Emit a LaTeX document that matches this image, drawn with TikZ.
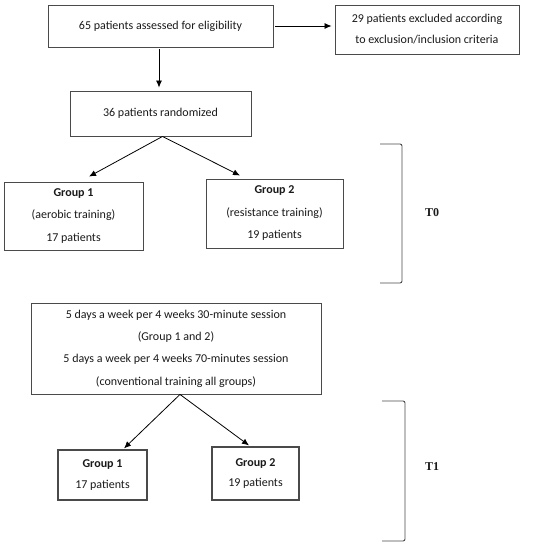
\documentclass[tikz,border=0pt]{standalone}
\usepackage{fontspec}
\setmainfont{Carlito}
\newfontfamily\tnr{Liberation Serif}
\usetikzlibrary{arrows.meta,calc}
\definecolor{boxline}{HTML}{4A4A4A}
\definecolor{txt}{HTML}{1A1A1A}
\tikzset{
  box/.style={draw=boxline, line width=0.9pt, rectangle, inner sep=0pt, align=center,
    text=txt, font=\fontsize{12}{22}\selectfont},
  thickbox/.style={box, line width=1.2pt},
  arr/.style={-{Latex[length=7pt,width=6pt]}, line width=0.8pt, black},
  brack/.style={draw=boxline, line width=0.9pt, rounded corners=2pt},
  tlabel/.style={font=\tnr\bfseries\fontsize{12}{13}\selectfont, text=txt}
}
\begin{document}
\begin{tikzpicture}[x=1pt,y=-1pt]
\useasboundingbox (0,0) rectangle (550,546);
\fill[white] (0,0) rectangle (550,546);
\node[box, minimum width=225pt, minimum height=42pt] (A) at (160.5,26) {65 patients assessed for eligibility};
\node[box, minimum width=184pt, minimum height=49pt, font=\fontsize{12}{21}\selectfont] (B) at (427,29.5) {29 patients excluded according\\to exclusion/inclusion criteria};
\node[box, minimum width=181pt, minimum height=45pt] (C) at (160.5,113.5) {36 patients randomized};
\node[box, minimum width=139pt, minimum height=68pt, font=\fontsize{12}{22.5}\selectfont] (G1) at (73.5,216) {\textbf{Group 1}\\(aerobic training)\\17 patients};
\node[box, minimum width=137pt, minimum height=69pt, font=\fontsize{12}{22.5}\selectfont] (G2) at (274.5,213.5) {\textbf{Group 2}\\(resistance training)\\19 patients};
\node[box, minimum width=290pt, minimum height=91pt, font=\fontsize{12}{22.4}\selectfont] (D) at (176,348.5) {5 days a week per 4 weeks 30-minute session\\(Group 1 and 2)\\5 days a week per 4 weeks 70-minutes session\\(conventional training all groups)};
\node[thickbox, minimum width=89pt, minimum height=50pt, font=\fontsize{12}{20.5}\selectfont] (H1) at (102.5,475) {\textbf{Group 1}\\17 patients};
\node[thickbox, minimum width=87pt, minimum height=53pt, font=\fontsize{12}{20.5}\selectfont] (H2) at (255.5,473.5) {\textbf{Group 2}\\19 patients};

\draw[arr] ([xshift=2pt]A.east) -- ([xshift=-3pt]B.west |- A.east);
\draw[arr] ([xshift=-1.5pt,yshift=-2pt]A.south) -- ([xshift=-1.5pt,yshift=3pt]C.north);
\draw[arr] ([xshift=2pt]C.south) -- ([xshift=15.5pt,yshift=5pt]G1.north);
\draw[arr] ([xshift=2pt]C.south) -- ([xshift=-34.5pt,yshift=3pt]G2.north);
\draw[arr] ([xshift=4pt]D.south) -- ([xshift=21.5pt,yshift=1pt]H1.north);
\draw[arr] ([xshift=4pt]D.south) -- ([xshift=-6.5pt,yshift=1pt]H2.north);

\coordinate (b0t) at (380,144);
\coordinate (b0b) at (380,283);
\draw[brack] (b0t) -- (402,144) -- (402,283) -- (b0b);
\node[tlabel] (T0) at (432,213) {T0};
\coordinate (b1t) at (382,401);
\coordinate (b1b) at (382,541);
\draw[brack] (b1t) -- (405,401) -- (405,541) -- (b1b);
\node[tlabel] (T1) at (432,467) {T1};
\end{tikzpicture}
\end{document}
